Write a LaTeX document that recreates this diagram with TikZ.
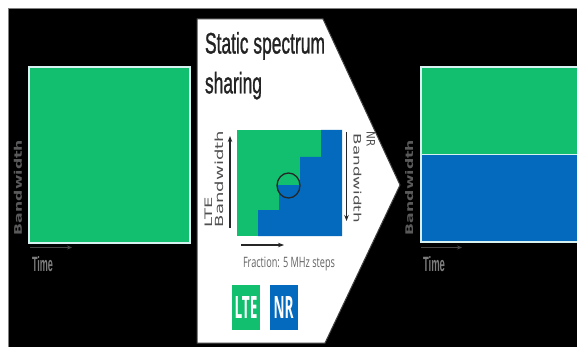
\documentclass[tikz,border=0pt]{standalone}
\usepackage{fontspec}
\usepackage{graphicx}
\setmainfont{Liberation Sans}
\newfontfamily\djv{DejaVu Sans}
\newfontfamily\osans{Open Sans}
\newfontfamily\heavytitle[FakeBold=1.3]{Liberation Sans}
\usetikzlibrary{arrows.meta}
\definecolor{ltegreen}{RGB}{18,191,111}
\definecolor{nrblue}{RGB}{4,106,190}
\definecolor{edgelight}{RGB}{215,240,240}
\definecolor{axisgrey}{RGB}{70,70,70}
\definecolor{labelgrey}{RGB}{90,90,90}
\definecolor{timegrey}{RGB}{125,125,125}
\definecolor{titleink}{RGB}{35,35,35}
\definecolor{chartink}{RGB}{80,80,80}
\definecolor{fracgrey}{RGB}{100,100,100}
\begin{document}
\begin{tikzpicture}[x=1pt,y=-1pt,
  txt/.style={inner sep=0pt, outer sep=0pt},
  axisarrow/.style={draw=axisgrey, line width=1pt, -{Stealth[length=5pt,width=4pt]}},
  chartarrow/.style={draw=black!85, line width=1.1pt, -{Stealth[length=6pt,width=4.5pt]}},
  bandbox/.style={draw=edgelight, line width=1.2pt},
  keybox/.style={inner sep=0pt, minimum width=28pt, minimum height=45pt},
]
\useasboundingbox (0,0) rectangle (577,347);
\fill[white] (0,0) rectangle (577,347);
\fill[black] (8,8) rectangle (577,347);
\draw[gray, line width=0.6pt] (8,347) -- (8,8) -- (577,8);

% ---------- left panel ----------
\fill[ltegreen] (29,67) rectangle (190,243);
\draw[bandbox] (29,67) rectangle (190,243);
\node[txt, rotate=90, anchor=base west, text=labelgrey] (bwL) at (22,235)
  {\resizebox{95pt}{8pt}{\djv\bfseries Bandwidth}};
\node[txt, anchor=base west, text=timegrey] (timeL) at (32,271)
  {\resizebox{21pt}{15pt}{\bfseries Time}};
\coordinate (tL0) at (30,247.5);
\coordinate (tL1) at (72,247.5);
\draw[axisarrow] (tL0) -- (tL1);

% ---------- central arrow shape ----------
\fill[white, draw=black!75, line width=1pt] (197,19) -- (323,19) -- (400,185) -- (325,343) -- (197,343) -- cycle;
\node[txt, anchor=base west, text=titleink] (title1) at (205,53.5)
  {\resizebox{120pt}{21.5pt}{\heavytitle Static spectrum}};
\node[txt, anchor=base west, text=titleink] (title2) at (205,93.3)
  {\resizebox{57pt}{21.5pt}{\heavytitle sharing}};

% chart
\fill[ltegreen] (237,130) rectangle (342,236);
\fill[nrblue] (342,130) -- (321,130) -- (321,157) -- (300,157) -- (300,185) -- (279,185)
  -- (279,210) -- (258,210) -- (258,236) -- (342,236) -- cycle;
\begin{scope}
  \clip (288.5,185.5) ellipse [x radius=11.5pt, y radius=12.5pt];
  \fill[ltegreen] (270,170) rectangle (305,185.5);
  \fill[nrblue] (270,185.5) rectangle (305,200);
\end{scope}
\draw[black!85, line width=1.3pt] (288.5,185.5) ellipse [x radius=11.5pt, y radius=12.5pt];

\node[txt, rotate=90, anchor=base west, text=chartink] (lteLbl) at (212.5,227)
  {\resizebox{30pt}{7.5pt}{\djv LTE}};
\node[txt, rotate=90, anchor=base west, text=chartink] (lteBw) at (223,227)
  {\resizebox{96pt}{8.5pt}{\djv Bandwidth}};
\coordinate (la0) at (230,228);
\coordinate (la1) at (230,136);
\draw[chartarrow] (la0) -- (la1);

\node[txt, rotate=-90, anchor=base west, text=chartink] (nrLbl) at (366.5,132)
  {\resizebox{15pt}{8.5pt}{\djv NR}};
\node[txt, rotate=-90, anchor=base west, text=chartink] (nrBw) at (353.5,134)
  {\resizebox{89pt}{7.8pt}{\djv Bandwidth}};
\coordinate (na0) at (346.5,132);
\coordinate (na1) at (346.5,221);
\draw[chartarrow] (na0) -- (na1);

\coordinate (fa0) at (241,245);
\coordinate (fa1) at (284,245);
\draw[chartarrow] (fa0) -- (fa1);
\node[txt, anchor=base west, text=fracgrey] (frac) at (243,267)
  {\resizebox{92pt}{10.5pt}{\osans Fraction: 5 MHz steps}};

% legend
\node[keybox, fill=ltegreen] (lteKey) at (246,307.5) {};
\node[txt, text=white] (lteKeyTxt) at (lteKey.center) {\resizebox{23pt}{22pt}{\osans\bfseries LTE}};
\node[keybox, fill=nrblue] (nrKey) at (283.5,307.5) {};
\node[txt, text=white] (nrKeyTxt) at (nrKey.center) {\resizebox{20pt}{22pt}{\osans\bfseries NR}};

% ---------- right panel ----------
\fill[ltegreen] (421,67) rectangle (578,154.5);
\fill[nrblue] (421,154.5) rectangle (578,241.5);
\draw[edgelight, line width=1.5pt] (421,154.5) -- (578,154.5);
\draw[bandbox] (421,67) rectangle (579,242);
\node[txt, rotate=90, anchor=base west, text=labelgrey] (bwR) at (413,235)
  {\resizebox{95pt}{8pt}{\djv\bfseries Bandwidth}};
\node[txt, anchor=base west, text=timegrey] (timeR) at (423,271)
  {\resizebox{22pt}{15pt}{\bfseries Time}};
\coordinate (tR0) at (421,247.5);
\coordinate (tR1) at (462,247.5);
\draw[axisarrow] (tR0) -- (tR1);
\end{tikzpicture}
\end{document}
